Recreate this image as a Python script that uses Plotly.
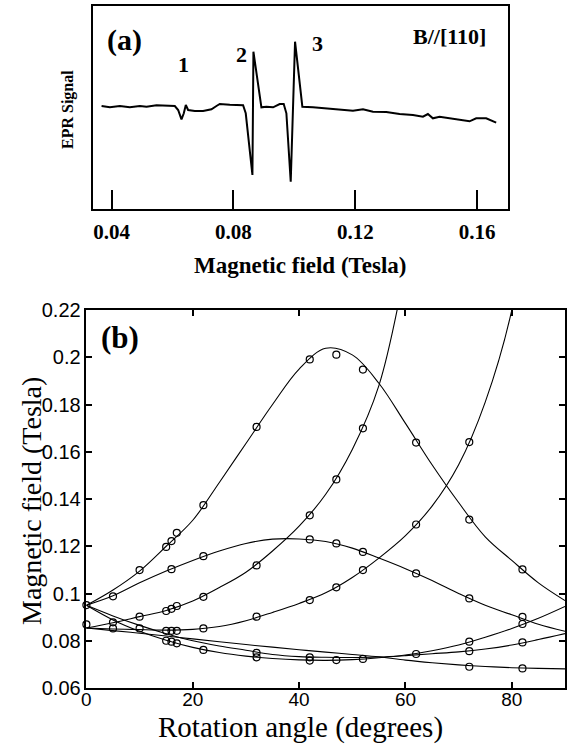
import plotly.graph_objects as go

W, H = 570, 747

# ---------------- Panel (a): EPR spectrum ----------------
epr_field = [0.03671, 0.03944, 0.04272, 0.04600, 0.04928, 0.05147, 0.05474, 0.05802,
             0.06075, 0.06185, 0.06294, 0.06370, 0.06436, 0.06512, 0.06731, 0.07004,
             0.07278, 0.07442, 0.07551, 0.07879, 0.08316, 0.08403, 0.08622, 0.08655,
             0.08917, 0.09081, 0.09300, 0.09518, 0.09649, 0.09737, 0.09879, 0.10021,
             0.10261, 0.10611, 0.11048, 0.11485, 0.11922, 0.12250, 0.12578, 0.13015,
             0.13452, 0.13890, 0.14218, 0.14381, 0.14545, 0.14764, 0.15092, 0.15420,
             0.15748, 0.15966, 0.16294, 0.16622]
epr_signal = [0, -1.3, 0, -1.3, 0, -0.7, 0.7, 0.3,
              0, -4, -13.3, -7.3, 1, -4, -5, -5,
              -3.3, 0, 2, 1.3, 0.7, -7.3, -69, 54.3,
              -1.3, -0.7, -1.3, 2, 2, -7.3, -75.7, 64.3,
              -0.7, -1.3, -2.3, -3, -4.7, -3.3, -5.7, -6,
              -8, -9, -10.7, -8, -12.3, -10.7, -12.3, -14,
              -15.3, -12.3, -12.3, -16.7]
a_ticks = [0.04, 0.08, 0.12, 0.16]
a_ticklabels = ["0.04", "0.08", "0.12", "0.16"]

# ---------------- Panel (b): angular dependence ----------------
fit_angle = [0, 5, 10, 15, 20, 25, 30, 35, 40, 45, 50, 55, 60, 65, 70, 75, 80, 85, 90]
fit_A = [0.0950, 0.1015, 0.1095, 0.1200, 0.1310, 0.1470, 0.1635, 0.1800, 0.1950, 0.2038,
         0.2010, 0.1890, 0.1720, 0.1545, 0.1385, 0.1240, 0.1140, 0.1045, 0.0970]
fit_B = [0.0950, 0.0990, 0.1045, 0.1095, 0.1140, 0.1180, 0.1212, 0.1230, 0.1231, 0.1220,
         0.1192, 0.1150, 0.1105, 0.1055, 0.1000, 0.0950, 0.0910, 0.0870, 0.0840]
fit_C_angle = [0, 5, 10, 15, 20, 25, 30, 35, 40, 45, 50, 55, 60]
fit_C = [0.0854, 0.0876, 0.0902, 0.0928, 0.0968, 0.1025, 0.1090, 0.1180, 0.1285, 0.1420,
         0.1610, 0.1880, 0.2380]
fit_D_angle = [0, 5, 10, 15, 20, 25, 30, 35, 40, 45, 50, 55, 60, 65, 70, 75, 80, 85]
fit_D = [0.0854, 0.0850, 0.0847, 0.0845, 0.0848, 0.0860, 0.0885, 0.0920, 0.0958, 0.1003,
         0.1068, 0.1150, 0.1245, 0.1370, 0.1545, 0.1810, 0.2200, 0.2900]
fit_E = [0.0950, 0.0888, 0.0840, 0.0802, 0.0772, 0.0750, 0.0735, 0.0725, 0.0719, 0.0717,
         0.0720, 0.0728, 0.0740, 0.0758, 0.0782, 0.0815, 0.0852, 0.0895, 0.0945]
fit_F = [0.0950, 0.0905, 0.0865, 0.0830, 0.0800, 0.0778, 0.0760, 0.0742, 0.0733, 0.0730,
         0.0729, 0.0731, 0.0737, 0.0745, 0.0753, 0.0765, 0.0782, 0.0805, 0.0830]
fit_G = [0.0854, 0.0843, 0.0832, 0.0820, 0.0808, 0.0796, 0.0784, 0.0773, 0.0762, 0.0752,
         0.0742, 0.0732, 0.0718, 0.0707, 0.0698, 0.0691, 0.0686, 0.0683, 0.0681]

meas_angle = [0, 0,
              10, 15, 16, 17, 22, 32, 42, 47, 52, 62, 72, 82,
              5, 16, 22, 42, 47, 52, 62, 72, 82,
              5, 10, 15, 16, 17, 22, 32, 42, 47, 52,
              5, 10, 15, 16, 17, 22, 32, 42, 47, 52, 62, 72,
              15, 16, 17, 22, 32, 42, 47, 52, 62, 72, 82,
              32, 42, 72, 82,
              72, 82]
meas_field = [0.0951, 0.0869,
              0.1099, 0.1197, 0.1222, 0.1257, 0.1374, 0.1705, 0.1991, 0.2011, 0.1948, 0.1639, 0.1313, 0.1102,
              0.0988, 0.1103, 0.1158, 0.1229, 0.1212, 0.1176, 0.1085, 0.0979, 0.0901,
              0.0878, 0.0902, 0.0926, 0.0935, 0.0947, 0.0986, 0.1119, 0.1331, 0.1483, 0.1699,
              0.0852, 0.0852, 0.0842, 0.0842, 0.0842, 0.0852, 0.0902, 0.0972, 0.1026, 0.1099, 0.1292, 0.1641,
              0.0800, 0.0796, 0.0789, 0.0761, 0.0730, 0.0716, 0.0718, 0.0723, 0.0744, 0.0796, 0.0871,
              0.0749, 0.0730, 0.0756, 0.0793,
              0.0690, 0.0683]
b_yticks = [0.06, 0.08, 0.10, 0.12, 0.14, 0.16, 0.18, 0.20, 0.22]
b_yticklabels = ["0.06", "0.08", "0.1", "0.12", "0.14", "0.16", "0.18", "0.2", "0.22"]
b_xticks = [0, 20, 40, 60, 80]

SERIF = "Liberation Serif"
SANS = "Liberation Sans"


def px(x):
    return x / W


def py(y):
    return 1 - y / H


fig = go.Figure()

fig.add_trace(go.Scatter(x=epr_field, y=epr_signal, mode="lines",
                         line=dict(color="black", width=2), xaxis="x", yaxis="y",
                         showlegend=False))

fits = [(fit_angle, fit_A), (fit_angle, fit_B), (fit_C_angle, fit_C), (fit_D_angle, fit_D),
        (fit_angle, fit_E), (fit_angle, fit_F), (fit_angle, fit_G)]
for xs, ys in fits:
    fig.add_trace(go.Scatter(x=xs, y=ys, mode="lines",
                             line=dict(color="black", width=1.1, shape="spline", smoothing=1.0),
                             xaxis="x2", yaxis="y2", showlegend=False))

fig.add_trace(go.Scatter(x=meas_angle, y=meas_field, mode="markers",
                         marker=dict(symbol="circle-open", size=7, color="black", line=dict(width=1.2)),
                         xaxis="x2", yaxis="y2", showlegend=False, cliponaxis=False))

fig.update_layout(
    width=W, height=H, margin=dict(l=0, r=0, t=0, b=0),
    paper_bgcolor="white", plot_bgcolor="white",
    xaxis=dict(domain=[px(93.3), px(507.7)], range=[0.034, 0.170], anchor="y",
               tickvals=a_ticks, ticktext=a_ticklabels, ticks="inside", ticklen=19, tickwidth=2,
               tickcolor="black", showline=True, linecolor="black", linewidth=2, mirror=True,
               showgrid=False, zeroline=False, automargin=False,
               tickfont=dict(family=SERIF, size=21, color="black", weight="bold"),
               ticklabelstandoff=2),
    yaxis=dict(domain=[py(209.3), py(6)], range=[-103.3, 100], anchor="x",
               showticklabels=False, ticks="", showline=True, linecolor="black", linewidth=2,
               mirror=True, showgrid=False, zeroline=False, automargin=False),
    xaxis2=dict(domain=[px(86.4), px(565)], range=[0, 90], anchor="y2",
                tickvals=b_xticks, ticks="inside", ticklen=6, tickwidth=1.5, tickcolor="black",
                showline=True, linecolor="black", linewidth=1.5, mirror="ticks",
                showgrid=False, zeroline=False, automargin=False,
                tickfont=dict(family=SANS, size=19, color="black"), ticklabelstandoff=-7),
    yaxis2=dict(domain=[py(688), py(310)], range=[0.06, 0.22], anchor="x2",
                tickvals=b_yticks, ticktext=b_yticklabels, ticks="inside", ticklen=6, tickwidth=1.5,
                tickcolor="black", showline=True, linecolor="black", linewidth=1.5, mirror="ticks",
                showgrid=False, zeroline=False, automargin=False,
                tickfont=dict(family=SANS, size=20, color="black")),
)

ann = [
    dict(text="<b>Magnetic field (Tesla)</b>", x=px(300), y=py(265), size=23, family=SERIF, angle=0),
    dict(text="<b>EPR Signal</b>", x=px(68), y=py(110), size=16, family=SERIF, angle=-90),
    dict(text="<b>(a)</b>", x=px(124), y=py(40), size=30, family=SERIF, angle=0),
    dict(text="<b>1</b>", x=px(183), y=py(65), size=22, family=SERIF, angle=0),
    dict(text="<b>2</b>", x=px(241), y=py(54), size=22, family=SERIF, angle=0),
    dict(text="<b>3</b>", x=px(317), y=py(43), size=22, family=SERIF, angle=0),
    dict(text="<b>B//[110]</b>", x=px(449), y=py(36), size=22, family=SERIF, angle=0),
    dict(text="<b>(b)</b>", x=px(120), y=py(337), size=31, family=SERIF, angle=0),
    dict(text="Magnetic field (Tesla)", x=px(31), y=py(501), size=28, family=SERIF, angle=-90),
    dict(text="Rotation angle (degrees)", x=px(300), y=py(727), size=29, family=SERIF, angle=0),
]
for a in ann:
    fig.add_annotation(text=a["text"], x=a["x"], y=a["y"], xref="paper", yref="paper",
                       showarrow=False, xanchor="center", yanchor="middle", textangle=a["angle"],
                       font=dict(family=a["family"], size=a["size"], color="black"))

fig.write_html("out.html", config={"displayModeBar": False},
               post_script="document.body.style.margin='0px';")
